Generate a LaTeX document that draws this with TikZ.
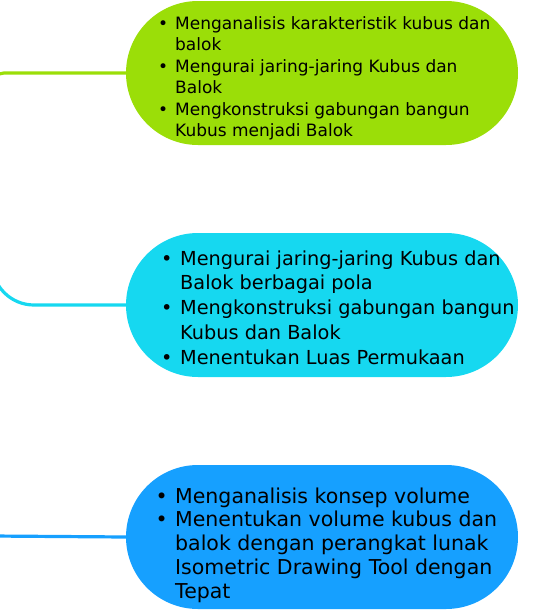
\documentclass[tikz,border=0pt]{standalone}
\usepackage{fontspec}
\setmainfont{DejaVu Sans}
\usetikzlibrary{shapes.misc, positioning}
\definecolor{limefill}{RGB}{155,222,8}
\definecolor{cyanfill}{RGB}{22,216,240}
\definecolor{bluefill}{RGB}{22,160,255}
\newlength{\bulw}
\setlength{\bulw}{17pt}
\newcommand{\bul}{\makebox[\bulw][l]{\textbullet}}
\newcommand{\cont}{\hspace*{\bulw}}

\begin{document}
\begin{tikzpicture}[x=1pt, y=-1pt,
  pill/.style={rounded rectangle, minimum width=392pt, minimum height=144pt, inner sep=0pt},
  txt/.style={align=left, anchor=west, inner sep=0pt, text=black},
  link/.style={line width=3.2pt, rounded corners=#1}]
\clip (0,0) rectangle (534,611);
\coordinate (root) at (-8,190);
\coordinate (rootlow) at (-8,536);
% pills
\node[pill, fill=limefill] (p1) at (322,73) {};
\node[pill, fill=cyanfill] (p2) at (322,305) {};
\node[pill, fill=bluefill] (p3) at (322,537) {};
% texts
\node[txt, font=\fontsize{17}{21.5}\selectfont] (t1) at (158,78.5) {\bul Menganalisis karakteristik kubus dan\\\cont balok\\\bul Mengurai jaring-jaring Kubus dan\\\cont Balok\\\bul Mengkonstruksi gabungan bangun\\\cont Kubus menjadi Balok};
\node[txt, font=\fontsize{19.3}{24.8}\selectfont, execute at begin node={\setlength{\bulw}{19pt}}] (t2) at (161,307.5) {\bul Mengurai jaring-jaring Kubus dan\\\cont Balok berbagai pola\\\bul Mengkonstruksi gabungan bangun\\\cont Kubus dan Balok\\\bul Menentukan Luas Permukaan};
\node[txt, font=\fontsize{20.5}{23.8}\selectfont, execute at begin node={\setlength{\bulw}{19.5pt}}] (t3) at (155.5,545) {\bul Menganalisis konsep volume\\\bul Menentukan volume kubus dan\\\cont balok dengan perangkat lunak\\\cont Isometric Drawing Tool dengan\\\cont Tepat};
% links
\draw[link=12pt, draw=limefill] (p1.west) -| (root);
\draw[link=42pt, draw=cyanfill] (p2.west) -| (root);
\draw[link=0pt, draw=bluefill] (p3.west) -- (rootlow);
\end{tikzpicture}
\end{document}
